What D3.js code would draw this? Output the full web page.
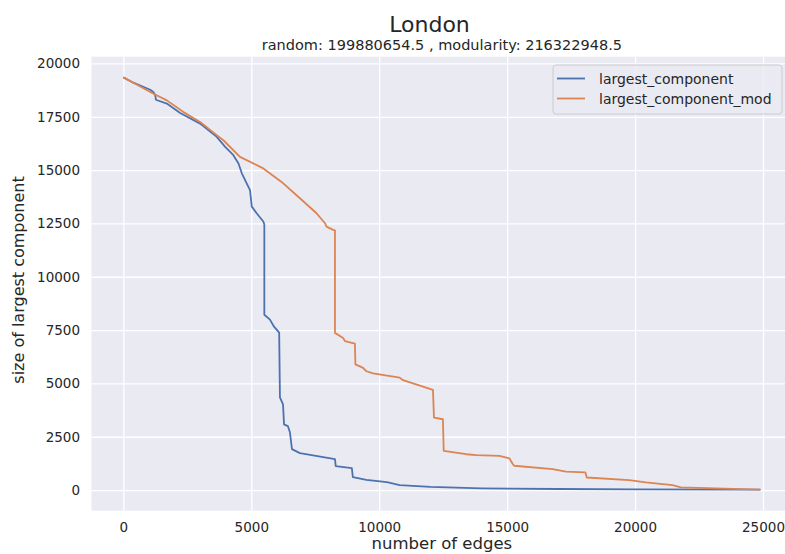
<!DOCTYPE html>
<html lang="en">
<head>
<meta charset="UTF-8">
<title>London</title>
<script src="https://d3js.org/d3.v7.min.js"></script>
<style>
  body { margin: 0; background: #fff; }
  text { font-family: "DejaVu Sans", sans-serif; fill: #262626; }
</style>
</head>
<body>
<svg width="785" height="554"></svg>
<script>
// blue series: largest_component
const edgesRandom = [0, 390, 1050, 1180, 1250, 1270, 1700, 2220, 3000, 3650, 3980, 4300, 4500, 4630, 4820, 4950, 5020, 5210, 5470, 5510, 5510, 5730, 5890, 6090, 6120, 6240, 6280, 6430, 6510, 6590, 6900, 8270, 8300, 8930, 8970, 9500, 10300, 10800, 12000, 14000, 17000, 20000, 24900];
const sizeRandom  = [19350, 19100, 18770, 18650, 18500, 18300, 18120, 17680, 17180, 16560, 16090, 15700, 15310, 14850, 14380, 14060, 13290, 12980, 12590, 12450, 8220, 7990, 7660, 7380, 4350, 4020, 3080, 3000, 2710, 1920, 1730, 1450, 1120, 1030, 610, 480, 370, 230, 150, 80, 50, 30, 20];

// orange series: largest_component_mod
const edgesMod = [0, 390, 1180, 1700, 2350, 3000, 3650, 3910, 4560, 5470, 6250, 6900, 7550, 7880, 7940, 8200, 8270, 8270, 8590, 8660, 9050, 9070, 9370, 9500, 9760, 10800, 10930, 12040, 12100, 12140, 12490, 12520, 13400, 13800, 14700, 15090, 15220, 15280, 16780, 17300, 18060, 18110, 19770, 20420, 21460, 21790, 23150, 24900];
const sizeMod  = [19350, 19100, 18580, 18270, 17720, 17260, 16640, 16400, 15620, 15080, 14380, 13680, 12980, 12510, 12350, 12200, 12180, 7370, 7130, 6980, 6870, 5890, 5730, 5570, 5470, 5270, 5150, 4720, 4700, 3400, 3320, 1840, 1680, 1640, 1600, 1480, 1220, 1140, 980, 860, 830, 590, 470, 360, 230, 130, 80, 20];

const xTicks = [0, 5000, 10000, 15000, 20000, 25000];
const yTicks = [0, 2500, 5000, 7500, 10000, 12500, 15000, 17500, 20000];
const seriesNames = ["largest_component", "largest_component_mod"];
const colors = ["#4c72b0", "#dd8452"];

const plot = {left: 91.5, right: 792.3, top: 56.7, bottom: 510.7};

const x = d3.scaleLinear().domain([-1245, 26145]).range([plot.left, plot.right]);
const y = d3.scaleLinear().domain([-967.5, 20317.5]).range([plot.bottom, plot.top]);

const svg = d3.select("svg");

svg.append("rect")
    .attr("x", plot.left).attr("y", plot.top)
    .attr("width", plot.right - plot.left).attr("height", plot.bottom - plot.top)
    .attr("fill", "#eaeaf2");

svg.append("clipPath").attr("id", "clip")
  .append("rect")
    .attr("x", plot.left).attr("y", plot.top)
    .attr("width", plot.right - plot.left).attr("height", plot.bottom - plot.top);

// axes with gridlines
const gx = svg.append("g")
    .attr("transform", "translate(0," + plot.bottom + ")")
    .call(d3.axisBottom(x).tickValues(xTicks).tickFormat(d3.format("d"))
        .tickSize(-(plot.bottom - plot.top)).tickPadding(12));
const gy = svg.append("g")
    .attr("transform", "translate(" + plot.left + ",0)")
    .call(d3.axisLeft(y).tickValues(yTicks).tickFormat(d3.format("d"))
        .tickSize(-(plot.right - plot.left)).tickPadding(11.5));

[gx, gy].forEach(g => {
  g.select(".domain").remove();
  g.selectAll(".tick line").attr("stroke", "#fff").attr("stroke-width", 1.3);
  g.selectAll(".tick text").attr("font-size", 13.5).attr("fill", "#262626")
    .attr("font-family", "DejaVu Sans");
});

// lines
const series = [
  d3.zip(edgesRandom, sizeRandom),
  d3.zip(edgesMod, sizeMod)
];
const line = d3.line().x(d => x(d[0])).y(d => y(d[1]));

svg.append("g").attr("clip-path", "url(#clip)")
  .selectAll("path")
  .data(series)
  .join("path")
    .attr("d", line)
    .attr("fill", "none")
    .attr("stroke", (d, i) => colors[i])
    .attr("stroke-width", 1.8)
    .attr("stroke-linejoin", "round");

// titles
svg.append("text")
    .attr("x", 429.5).attr("y", 31.5)
    .attr("text-anchor", "middle")
    .attr("font-size", 22)
    .text("London");
svg.append("text")
    .attr("x", (plot.left + plot.right) / 2).attr("y", 50)
    .attr("text-anchor", "middle")
    .attr("font-size", 14.5)
    .text("random: 199880654.5 , modularity: 216322948.5");

// axis labels
svg.append("text")
    .attr("x", (plot.left + plot.right) / 2).attr("y", 549)
    .attr("text-anchor", "middle")
    .attr("font-size", 16.5)
    .text("number of edges");
svg.append("text")
    .attr("transform", "translate(24,280) rotate(-90)")
    .attr("text-anchor", "middle")
    .attr("font-size", 16)
    .text("size of largest component");

// legend
const lg = svg.append("g").attr("transform", "translate(553,65)");
lg.append("rect")
    .attr("width", 229).attr("height", 49).attr("rx", 3)
    .attr("fill", "#eaeaf2").attr("fill-opacity", 0.8)
    .attr("stroke", "#cccccc").attr("stroke-width", 1);
seriesNames.forEach((name, i) => {
  lg.append("line")
      .attr("x1", 4).attr("x2", 32)
      .attr("y1", 13.5 + i * 20).attr("y2", 13.5 + i * 20)
      .attr("stroke", colors[i]).attr("stroke-width", 1.8);
  lg.append("text")
      .attr("x", 46).attr("y", 18.5 + i * 20)
      .attr("font-size", 14)
      .text(name);
});
</script>
</body>
</html>
